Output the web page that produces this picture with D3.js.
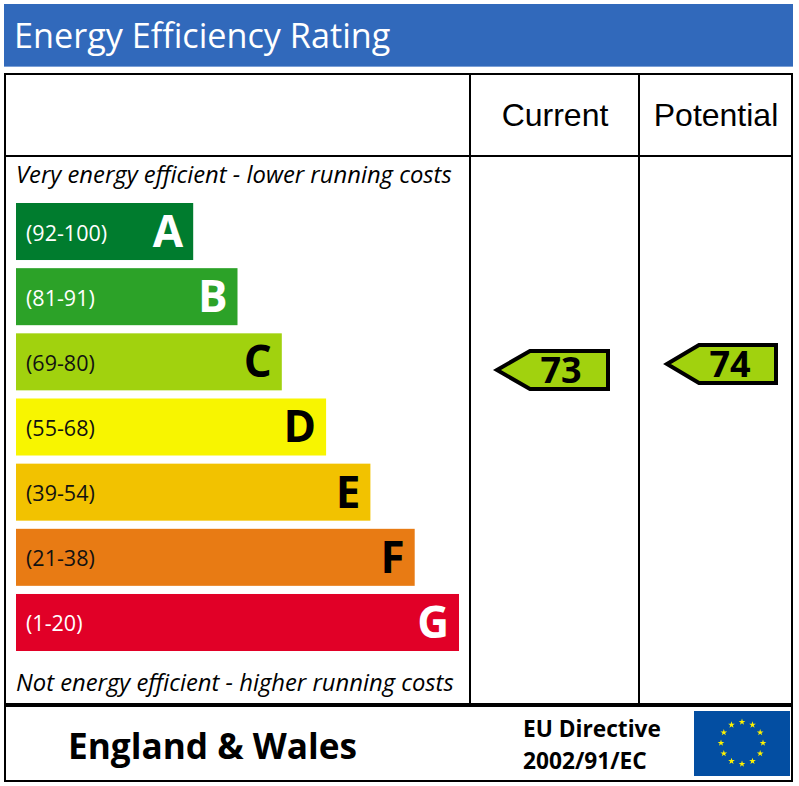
<!DOCTYPE html>
<html>
<head>
<meta charset="utf-8">
<script src="https://cdn.jsdelivr.net/npm/d3@7"></script>
<style>
  html, body { margin: 0; padding: 0; background: #fff; }
  svg { display: block; }
  text { font-family: "Open Sans", sans-serif; }
</style>
</head>
<body>
<div id="chart"></div>
<script>
var letters = ["A", "B", "C", "D", "E", "F", "G"];
var ranges = ["(92-100)", "(81-91)", "(69-80)", "(55-68)", "(39-54)", "(21-38)", "(1-20)"];
var barLengths = [4, 5, 6, 7, 8, 9, 10];
var barColors = ["#007c2e", "#2ca228", "#a1d20e", "#f8f500", "#f2c200", "#e87b14", "#e10027"];
var rangeColors = ["#fff", "#fff", "#111", "#111", "#111", "#111", "#fff"];
var letterColors = ["#fff", "#fff", "#000", "#000", "#000", "#000", "#fff"];
var columns = ["Current", "Potential"];
var ratings = [73, 74];

var width = 799, height = 786;

var svg = d3.select("#chart").append("svg")
    .attr("width", width)
    .attr("height", height);

var x = d3.scaleLinear().domain([0, 10]).range([16, 459]);
var y = d3.scaleBand().domain(letters).range([203, 651]).paddingInner(0.125);
var ratingY = d3.scaleLinear().domain([80, 69]).range([328, 394]);

// title band
svg.append("rect")
    .attr("x", 4).attr("y", 4)
    .attr("width", 789).attr("height", 63)
    .attr("fill", "#3169bb");
svg.append("rect")
    .attr("x", 4).attr("y", 66)
    .attr("width", 789).attr("height", 1)
    .attr("fill", "#7a9fd6");
svg.append("text")
    .attr("x", 14).attr("y", 48)
    .attr("font-size", 34.2)
    .attr("fill", "#fff")
    .text("Energy Efficiency Rating");

// frame
var frame = svg.append("g")
    .attr("stroke", "#000")
    .attr("fill", "none")
    .attr("shape-rendering", "crispEdges");
frame.append("rect")
    .attr("x", 5).attr("y", 74)
    .attr("width", 787).attr("height", 707)
    .attr("stroke-width", 2);
frame.append("line")
    .attr("x1", 5).attr("x2", 792).attr("y1", 156).attr("y2", 156)
    .attr("stroke-width", 2);
frame.append("line")
    .attr("x1", 5).attr("x2", 792).attr("y1", 705).attr("y2", 705)
    .attr("stroke-width", 4);
frame.selectAll(".col")
    .data([470, 639])
    .enter().append("line")
    .attr("class", "col")
    .attr("x1", function(d) { return d; })
    .attr("x2", function(d) { return d; })
    .attr("y1", 74).attr("y2", 705)
    .attr("stroke-width", 2);

// column heads
svg.selectAll(".head")
    .data(columns)
    .enter().append("text")
    .attr("class", "head")
    .attr("x", function(d, i) { return [555, 716][i]; })
    .attr("y", 126)
    .attr("text-anchor", "middle")
    .attr("font-size", 32)
    .style("font-family", "'Liberation Sans', Arial, sans-serif")
    .attr("fill", "#000")
    .text(function(d) { return d; });

svg.append("text")
    .attr("x", 16).attr("y", 183)
    .attr("font-size", 23.8)
    .attr("font-style", "italic")
    .attr("fill", "#000")
    .text("Very energy efficient - lower running costs");
svg.append("text")
    .attr("x", 16).attr("y", 691)
    .attr("font-size", 23.8)
    .attr("font-style", "italic")
    .attr("fill", "#000")
    .text("Not energy efficient - higher running costs");

// bars
var bars = svg.selectAll(".bar")
    .data(letters)
    .enter().append("g")
    .attr("class", "bar");

bars.append("rect")
    .attr("x", x(0))
    .attr("y", function(d) { return y(d); })
    .attr("width", function(d, i) { return x(barLengths[i]) - x(0); })
    .attr("height", y.bandwidth())
    .attr("fill", function(d, i) { return barColors[i]; });

bars.append("text")
    .attr("x", 26)
    .attr("y", function(d) { return y(d) + 37.5; })
    .attr("font-size", 21.5)
    .attr("fill", function(d, i) { return rangeColors[i]; })
    .text(function(d, i) { return ranges[i]; });

bars.append("text")
    .attr("x", function(d, i) { return x(barLengths[i]) - 10; })
    .attr("y", function(d) { return y(d) + 44; })
    .attr("text-anchor", "end")
    .attr("font-size", 44)
    .attr("font-weight", 700)
    .attr("fill", function(d, i) { return letterColors[i]; })
    .text(function(d) { return d; });

// rating arrows
var arrowLeft = [497, 667];
var arrowRight = [608, 776];
var neck = [530, 699];
var halfH = 19;

var arrows = svg.selectAll(".arrow")
    .data(ratings)
    .enter().append("g")
    .attr("class", "arrow");

arrows.append("path")
    .attr("d", function(d, i) {
        var cy = ratingY(d);
        return d3.line()([
            [arrowLeft[i], cy],
            [neck[i], cy - halfH],
            [arrowRight[i], cy - halfH],
            [arrowRight[i], cy + halfH],
            [neck[i], cy + halfH]
        ]) + "Z";
    })
    .attr("fill", barColors[2])
    .attr("stroke", "#000")
    .attr("stroke-width", 4);

arrows.append("text")
    .attr("x", function(d, i) { return [561, 730][i]; })
    .attr("y", function(d) { return ratingY(d) + 13; })
    .attr("text-anchor", "middle")
    .attr("font-size", 36)
    .attr("font-weight", 700)
    .attr("fill", "#000")
    .text(function(d) { return d; });

// footer
svg.append("text")
    .attr("x", 68).attr("y", 759)
    .attr("font-size", 35.2)
    .attr("font-weight", 700)
    .attr("fill", "#000")
    .text("England & Wales");
svg.append("text")
    .attr("x", 523).attr("y", 737)
    .attr("font-size", 22.7)
    .attr("font-weight", 700)
    .attr("fill", "#000")
    .text("EU Directive");
svg.append("text")
    .attr("x", 523).attr("y", 769)
    .attr("font-size", 22.7)
    .attr("font-weight", 700)
    .attr("fill", "#000")
    .text("2002/91/EC");

// EU flag
svg.append("rect")
    .attr("x", 694).attr("y", 711)
    .attr("width", 96).attr("height", 65)
    .attr("fill", "#034ea2");

var stars = d3.range(12);
var starPath = d3.symbol().type(d3.symbolStar).size(14);
var starAngle = d3.scaleLinear().domain([0, 12]).range([0, 2 * Math.PI]);

svg.selectAll(".star")
    .data(stars)
    .enter().append("path")
    .attr("class", "star")
    .attr("d", starPath)
    .attr("fill", "#fff200")
    .attr("transform", function(d) {
        var a = starAngle(d);
        return "translate(" + (742 + 21 * Math.sin(a)) + "," + (743 - 21 * Math.cos(a)) + ")";
    });
</script>
</body>
</html>
